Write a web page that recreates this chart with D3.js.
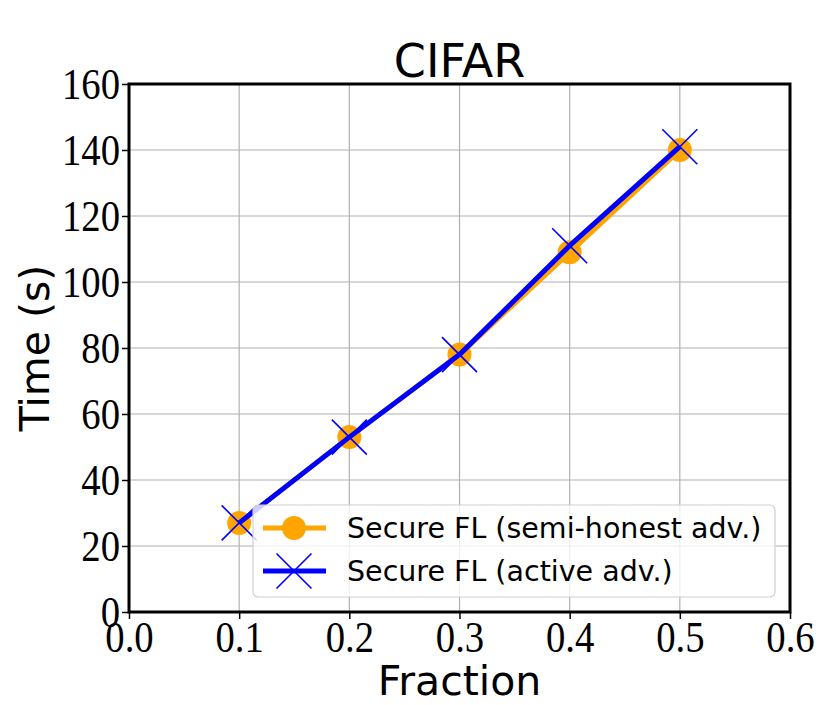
<!DOCTYPE html>
<html><head><meta charset="utf-8">
<script src="https://cdn.jsdelivr.net/npm/d3@7"></script>
<style>body{margin:0;background:#fff}</style>
</head><body>
<svg id="c" width="830" height="705"></svg>
<script>
const fractions = [0.1, 0.2, 0.3, 0.4, 0.5];
const semiHonest = [27, 53, 78, 109, 140];
const active = [27, 53, 78, 111, 141];
const xTicks = [0.0, 0.1, 0.2, 0.3, 0.4, 0.5, 0.6];
const yTicks = [0, 20, 40, 60, 80, 100, 120, 140, 160];
const seriesNames = ["Secure FL (semi-honest adv.)", "Secure FL (active adv.)"];

const L = 129, R = 790, T = 84, B = 612;
const svg = d3.select("#c");
const x = d3.scaleLinear().domain([0, 0.6]).range([L, R]);
const y = d3.scaleLinear().domain([0, 160]).range([B, T]);

// grid
svg.append("g").selectAll("line").data(xTicks).join("line")
  .attr("x1", d => x(d)).attr("x2", d => x(d)).attr("y1", T).attr("y2", B)
  .attr("stroke", "#b0b0b0").attr("stroke-width", 1.2);
svg.append("g").selectAll("line").data(yTicks).join("line")
  .attr("y1", d => y(d)).attr("y2", d => y(d)).attr("x1", L).attr("x2", R)
  .attr("stroke", "#b0b0b0").attr("stroke-width", 1.2);

// axes
const xa = svg.append("g").attr("transform", `translate(0,${B})`)
  .call(d3.axisBottom(x).tickValues(xTicks).tickFormat(d3.format(".1f")).tickSize(7).tickPadding(2));
const ya = svg.append("g").attr("transform", `translate(${L},0)`)
  .call(d3.axisLeft(y).tickValues(yTicks).tickFormat(d3.format("d")).tickSize(7).tickPadding(2));
[xa, ya].forEach(a => {
  a.select(".domain").remove();
  a.selectAll(".tick line").attr("stroke", "#000").attr("stroke-width", 1.5);
  a.selectAll(".tick text").attr("fill", "#000")
    .style("font-family", "'Liberation Serif','Times New Roman',serif").style("font-size", "44px")
    .attr("transform", "scale(0.88,1)");
});
ya.selectAll(".tick text").attr("x", -9 / 0.88).attr("dy", "0.33em");

// lines
const line = d3.line().x((d, i) => x(fractions[i])).y(d => y(d));
svg.append("path").datum(semiHonest).attr("d", line)
  .attr("fill", "none").attr("stroke", "orange").attr("stroke-width", 5).attr("stroke-linejoin", "round");
svg.selectAll(".dot").data(semiHonest).join("circle").attr("class", "dot")
  .attr("cx", (d, i) => x(fractions[i])).attr("cy", d => y(d)).attr("r", 12).attr("fill", "orange");
svg.append("path").datum(active).attr("d", line)
  .attr("fill", "none").attr("stroke", "blue").attr("stroke-width", 5).attr("stroke-linejoin", "round");
const s = 17.5;
const xm = svg.append("g").selectAll("g").data(active).join("g")
  .attr("transform", (d, i) => `translate(${x(fractions[i])},${y(d)})`);
xm.append("path").attr("d", `M${-s},${-s}L${s},${s}M${-s},${s}L${s},${-s}`)
  .attr("stroke", "blue").attr("stroke-width", 1.6).attr("fill", "none");

// frame
svg.append("rect").attr("x", L).attr("y", T).attr("width", R - L).attr("height", B - T)
  .attr("fill", "none").attr("stroke", "#000").attr("stroke-width", 3);

// legend
const lg = svg.append("g");
lg.append("rect").attr("x", 253).attr("y", 505).attr("width", 522).attr("height", 92).attr("rx", 5)
  .attr("fill", "rgba(255,255,255,0.8)").attr("stroke", "#d0d0d0").attr("stroke-width", 1.2);
const rows = [528, 571];
lg.append("line").attr("x1", 263).attr("x2", 326).attr("y1", rows[0]).attr("y2", rows[0])
  .attr("stroke", "orange").attr("stroke-width", 5);
lg.append("circle").attr("cx", 294).attr("cy", rows[0]).attr("r", 12).attr("fill", "orange");
lg.append("line").attr("x1", 263).attr("x2", 326).attr("y1", rows[1]).attr("y2", rows[1])
  .attr("stroke", "blue").attr("stroke-width", 5);
lg.append("path").attr("d", `M${294 - s},${rows[1] - s}L${294 + s},${rows[1] + s}M${294 - s},${rows[1] + s}L${294 + s},${rows[1] - s}`)
  .attr("stroke", "blue").attr("stroke-width", 1.6);
lg.selectAll("text").data(seriesNames).join("text")
  .attr("x", 347).attr("y", (d, i) => rows[i]).attr("dy", "0.36em")
  .style("font-family", "'DejaVu Sans',sans-serif").style("font-size", "28.5px").attr("fill", "#000")
  .text(d => d);

// titles
svg.append("text").attr("x", (L + R) / 2).attr("y", 77).attr("text-anchor", "middle")
  .style("font-family", "'DejaVu Sans',sans-serif").style("font-size", "46px").text("CIFAR");
svg.append("text").attr("x", (L + R) / 2).attr("y", 695).attr("text-anchor", "middle")
  .style("font-family", "'DejaVu Sans',sans-serif").style("font-size", "41px").text("Fraction");
svg.append("text").attr("transform", `translate(49,${(T + B) / 2}) rotate(-90)`).attr("text-anchor", "middle")
  .style("font-family", "'DejaVu Sans',sans-serif").style("font-size", "41px").text("Time (s)");
</script>
</body></html>
